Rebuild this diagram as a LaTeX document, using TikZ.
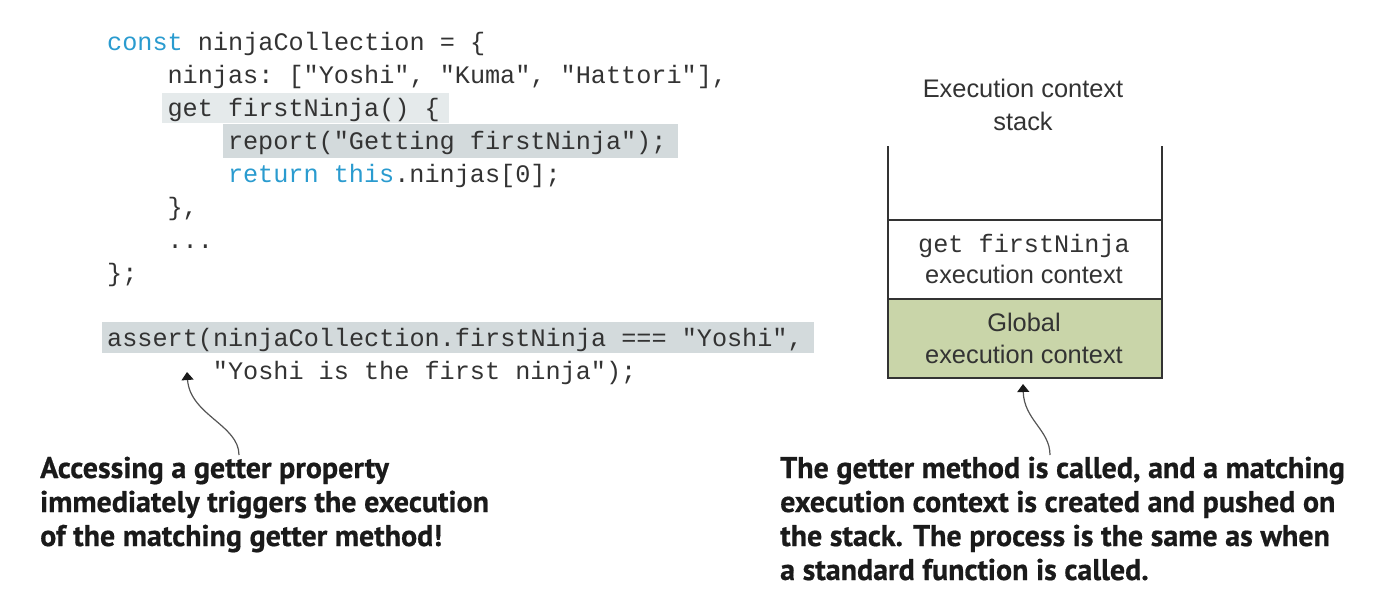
\documentclass[tikz,border=0pt]{standalone}
\usepackage{fontspec}
\setmainfont{Liberation Sans}
\setsansfont{Liberation Sans}
\setmonofont{Liberation Mono}
\newfontfamily\notefont{PT Sans}[BoldFeatures={FakeBold=0.6}]
\usetikzlibrary{arrows.meta}
\definecolor{kw}{HTML}{2A9BCF}
\definecolor{codetext}{HTML}{333333}
\definecolor{hlight}{HTML}{E5EAEB}
\definecolor{hdark}{HTML}{D3DADC}
\definecolor{green}{HTML}{C9D5A9}
\definecolor{linec}{HTML}{333333}
\definecolor{notec}{HTML}{1A1A1A}
\definecolor{arrowc}{HTML}{555555}
\tikzset{
  code/.style={anchor=base west, inner sep=0pt, text=codetext, font=\ttfamily\fontsize{25.2}{33}\selectfont},
  stacktxt/.style={anchor=base, inner sep=0pt, text=codetext, font=\fontsize{25.4}{33}\selectfont},
  note/.style={anchor=base west, inner sep=0pt, text=notec, font=\notefont\bfseries\fontsize{30}{34}\selectfont},
  stackline/.style={draw=linec, line width=1.3pt},
  pointer/.style={draw=arrowc, line width=1.2pt, -{Triangle[length=8pt,width=12pt,color=notec]}},
}
\begin{document}
\begin{tikzpicture}[x=1pt,y=-1pt]
\useasboundingbox (0,0) rectangle (1376,598);
% highlights
\fill[hlight] (162,93) rectangle (449,123);
\fill[hdark] (223,124) rectangle (678,158);
\fill[hdark] (102,322) rectangle (814,353);
% code
\node[code] (c1) at (107,50) {\textcolor{kw}{const} ninjaCollection = \{};
\node[code] (c2) at (167.4,83) {ninjas: ["Yoshi", "Kuma", "Hattori"],};
\node[code] (c3) at (167.4,116) {get firstNinja() \{};
\node[code] (c4) at (227.8,149) {report("Getting firstNinja");};
\node[code] (c5) at (227.8,182) {\textcolor{kw}{return} \textcolor{kw}{this}.ninjas[0];};
\node[code] (c6) at (167.4,215) {\},};
\node[code] (c7) at (167.4,248) {...};
\node[code] (c8) at (107,281) {\};};
\node[code] (c9) at (107,346) {assert(ninjaCollection.firstNinja === "Yoshi",};
\node[code] (c10) at (212.7,379) {"Yoshi is the first ninja");};
% stack
\node[stacktxt] (t1) at (1023,97) {Execution context};
\node[stacktxt] (t2) at (1023,130) {stack};
\fill[green] (888,299) rectangle (1162,378);
\coordinate (tl) at (888,146);
\coordinate (tr) at (1162,146);
\coordinate (bl) at (888,378);
\coordinate (br) at (1162,378);
\draw[stackline] (tl) -- (bl) -- (br) -- (tr);
\draw[stackline] (888,220) -- (1162,220);
\draw[stackline] (888,299) -- (1162,299);
\node[stacktxt, font=\ttfamily\fontsize{25.2}{33}\selectfont] (g1) at (1024,252) {get firstNinja};
\node[stacktxt] (g2) at (1024,283) {execution context};
\node[stacktxt] (h1) at (1024,331) {Global};
\node[stacktxt] (h2) at (1024,363) {execution context};
% notes
\node[note] (n1) at (40,478) {Accessing a getter property};
\node[note] (n2) at (40,512) {immediately triggers the execution};
\node[note] (n3) at (40,546) {of the matching getter method!};
\node[note] (m1) at (780,478) {The getter method is called, and a matching};
\node[note] (m2) at (780,512) {execution context is created and pushed on};
\node[note] (m3) at (780,546) {the stack. The process is the same as when};
\node[note] (m4) at (780,580) {a standard function is called.};
% pointers
\coordinate (p1) at (239,455);
\coordinate (p1t) at (187,372);
\draw[pointer] (p1) .. controls (239,425) and (190,415) .. (p1t);
\coordinate (p2) at (1050,455);
\coordinate (p2t) at (1023,384);
\draw[pointer] (p2) .. controls (1050,430) and (1024,420) .. (p2t);
\end{tikzpicture}
\end{document}
